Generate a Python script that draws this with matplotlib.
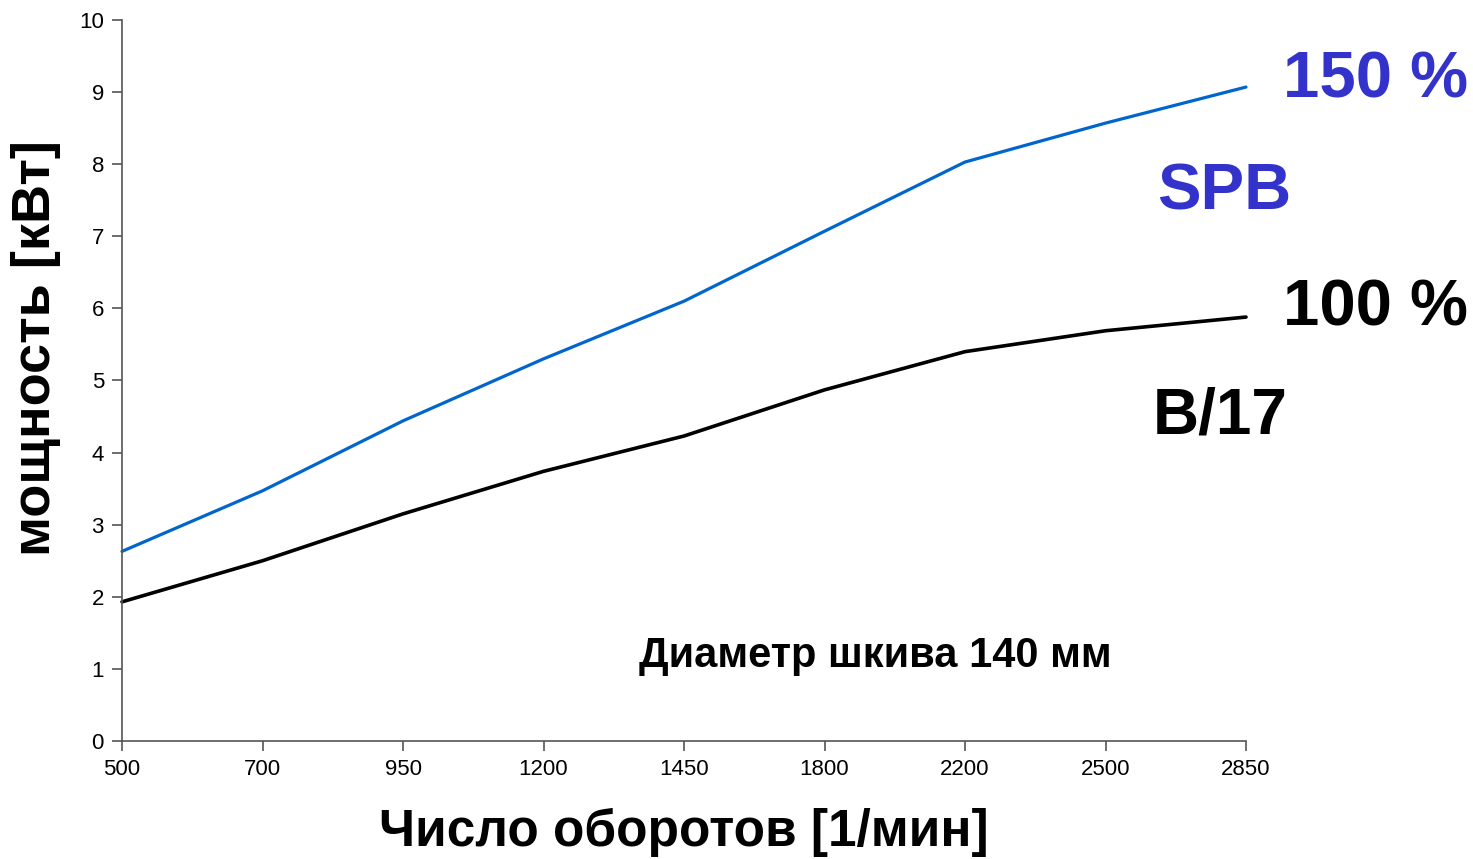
import matplotlib
matplotlib.use("Agg")
import matplotlib.pyplot as plt

plt.rcParams['font.family'] = ['Liberation Sans', 'DejaVu Sans']

rpm_labels = ["500", "700", "950", "1200", "1450", "1800", "2200", "2500", "2850"]
spb_150 = [2.63, 3.47, 4.44, 5.30, 6.10, 7.07, 8.03, 8.57, 9.07]
b17_100 = [1.93, 2.50, 3.15, 3.74, 4.23, 4.87, 5.40, 5.69, 5.88]
y_ticks = list(range(0, 11))

fig = plt.figure(figsize=(14.73, 8.59), dpi=100)
ax = fig.add_axes([122/1473, 1-741/859, (1246-122)/1473, (741-20)/859])

x = list(range(len(rpm_labels)))
ax.plot(x, spb_150, color="#0066CC", lw=2.3, solid_capstyle='round', clip_on=False)
ax.plot(x, b17_100, color="#000000", lw=2.6, solid_capstyle='round', clip_on=False)

ax.set_xlim(0, len(rpm_labels) - 1)
ax.set_ylim(0, 10)
ax.set_xticks(x)
ax.set_xticklabels(rpm_labels)
ax.set_yticks(y_ticks)
ax.tick_params(axis='both', labelsize=16, length=7, width=1.2, color="#555555", direction='out', pad=6)
for s in ['top', 'right']:
    ax.spines[s].set_visible(False)
for s in ['left', 'bottom']:
    ax.spines[s].set_color("#555555")
    ax.spines[s].set_linewidth(1.2)

ax.set_xlabel("Число оборотов [1/мин]", fontsize=37, fontweight='bold', labelpad=20)
ax.set_ylabel("мощность [кВт]", fontsize=39, fontweight='bold')
ax.yaxis.set_label_coords(-0.054, (741-348)/721)

blue_txt = "#3333CC"
fig.text(1468/1473, 1-81/859, "150 %", fontsize=47, fontweight='bold', color=blue_txt, ha='right', va='center')
fig.text(1291/1473, 1-193/859, "SPB", fontsize=47, fontweight='bold', color=blue_txt, ha='right', va='center')
fig.text(1468/1473, 1-308/859, "100 %", fontsize=47, fontweight='bold', color='black', ha='right', va='center')
fig.text(1288/1473, 1-416/859, "B/17", fontsize=46, fontweight='bold', color='black', ha='right', va='center')
fig.text(875/1473, 1-656/859, "Диаметр шкива 140 мм", fontsize=30, fontweight='bold', color='black', ha='center', va='center')

fig.savefig("out.png", dpi=100)
